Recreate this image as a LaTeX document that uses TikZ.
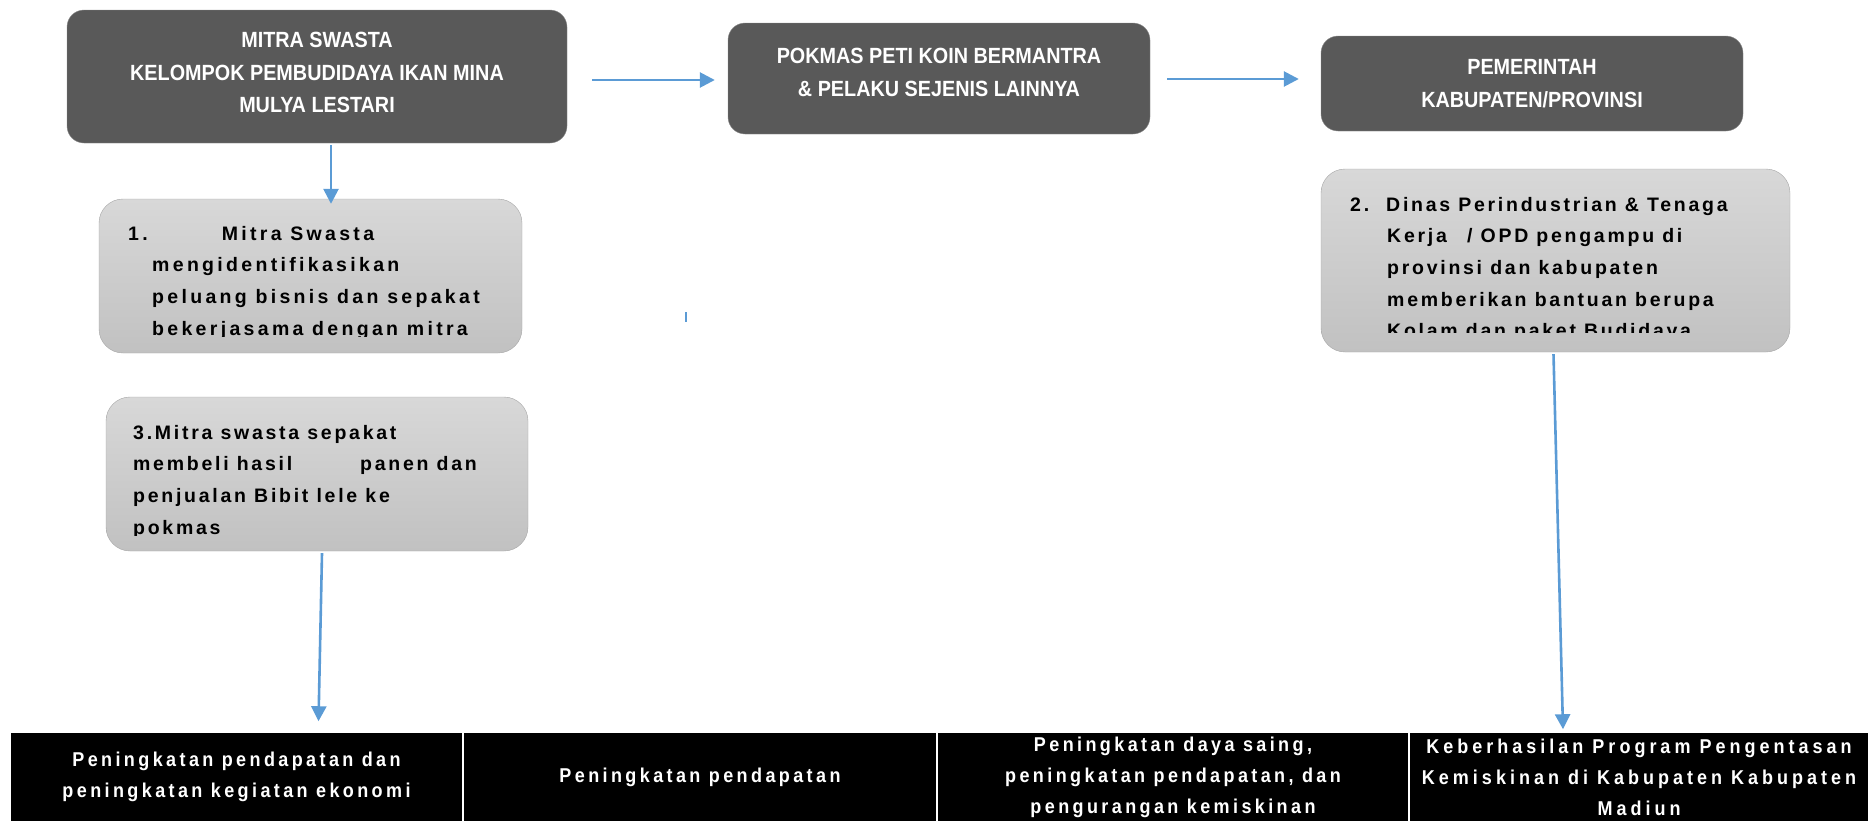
\documentclass[tikz,border=0pt]{standalone}
\usepackage{fontspec}
\setmainfont{Liberation Sans}
\usetikzlibrary{arrows.meta,positioning}

\definecolor{boxdark}{HTML}{595959}
\definecolor{boxedge}{HTML}{8C8C8C}
\definecolor{lighttop}{HTML}{D8D8D8}
\definecolor{lightbot}{HTML}{C1C1C1}
\definecolor{lightedge}{HTML}{A6A6A6}
\definecolor{arrowblue}{HTML}{5B9BD5}

\newcommand{\headfont}{\fontsize{22}{32.5}\selectfont\bfseries\addfontfeature{FakeStretch=0.9}}
\newcommand{\stepfont}{\fontsize{19.5}{31.7}\selectfont\bfseries\addfontfeature{LetterSpace=14}}
\newcommand{\resultfont}{\fontsize{20}{31}\selectfont\bfseries\addfontfeature{FakeStretch=0.9,LetterSpace=17}}

\tikzset{
    darkbox/.style={draw=boxedge, fill=boxdark, rounded corners=17pt, text=white,
        font=\headfont, align=center, inner sep=0pt},
    lightbox/.style={draw=lightedge, top color=lighttop, bottom color=lightbot,
        rounded corners=24pt, inner sep=0pt},
    steptext/.style={anchor=base west, align=left, font=\stepfont, inner sep=0pt},
    resultbox/.style={fill=black, draw=white, line width=1.5pt, text=white,
        font=\resultfont, align=center, minimum height=90pt, inner sep=0pt},
    link/.style={draw=arrowblue, line width=2.6pt, -{Triangle[length=15pt,width=15pt]}},
}

\begin{document}
\begin{tikzpicture}[x=1pt, y=-1pt]
    \useasboundingbox (0,0) rectangle (1869,822);

    % actors on top
    \node[darkbox, minimum width=500, minimum height=133, text depth=8pt] (mitra) at (317,76.5)
        {MITRA SWASTA\\KELOMPOK PEMBUDIDAYA IKAN MINA\\MULYA LESTARI};
    \node[darkbox, minimum width=422, minimum height=111, text depth=12pt] (pokmas) at (939,78.5)
        {POKMAS PETI KOIN BERMANTRA\\\& PELAKU SEJENIS LAINNYA};
    \node[darkbox, minimum width=422, minimum height=95] (pemda) at (1532,83.5)
        {PEMERINTAH\\KABUPATEN/PROVINSI};

    % numbered steps
    \node[lightbox, minimum width=423, minimum height=154] (step1) at (310.5,276) {};
    \node[lightbox, minimum width=469, minimum height=183] (step2) at (1555.5,260.5) {};
    \node[lightbox, minimum width=422, minimum height=154] (step3) at (317,474) {};

    % step texts, cut off at the box bottom
    \begin{scope}
        \clip (99,199) rectangle (522,336);
        \node[steptext, font=\stepfont\addfontfeature{LetterSpace=17}] (text1) at (128,335.1)
            {1.\hspace{74pt}Mitra Swasta\\
             \hspace*{24pt}mengidentifikasikan\\
             \hspace*{24pt}peluang bisnis dan sepakat\\
             \hspace*{24pt}bekerjasama dengan mitra};
    \end{scope}
    \begin{scope}
        \clip (1321,169) rectangle (1790,332);
        \node[steptext] (text2) at (1350,337.8)
            {2.\hspace{17pt}Dinas Perindustrian \& Tenaga\\
             \hspace*{37pt}Kerja \hspace{12pt}/ OPD pengampu di\\
             \hspace*{37pt}provinsi dan kabupaten\\
             \hspace*{37pt}memberikan bantuan berupa\\
             \hspace*{37pt}Kolam dan paket Budidaya};
    \end{scope}
    \begin{scope}
        \clip (106,397) rectangle (528,535);
        \node[steptext] (text3) at (133,534.1)
            {3.Mitra swasta sepakat\\
             membeli hasil\hspace{68pt}panen dan\\
             penjualan Bibit lele ke\\
             pokmas};
    \end{scope}

    % outcomes
    \node[resultbox, minimum width=453] (hasil1) at (236.5,777)
        {Peningkatan pendapatan dan\\peningkatan kegiatan ekonomi};
    \node[resultbox, minimum width=474] (hasil2) at (700,777)
        {Peningkatan pendapatan};
    \node[resultbox, minimum width=472] (hasil3) at (1173,777)
        {Peningkatan daya saing,\\peningkatan pendapatan, dan\\pengurangan kemiskinan};
    \node[resultbox, minimum width=460, font=\resultfont\addfontfeature{LetterSpace=20}] (hasil4) at (1639,777)
        {Keberhasilan Program Pengentasan\\Kemiskinan di Kabupaten Kabupaten\\Madiun};

    % arrows
    \draw[link] ([xshift=25pt]mitra.east |- 0,80) -- ([xshift=-13pt]pokmas.west |- 0,80);
    \draw[link] ([xshift=17pt]pokmas.east |- 0,79) -- ([xshift=-22pt]pemda.west |- 0,79);
    \draw[link] ([xshift=14pt,yshift=-2pt]mitra.south) -- ([xshift=20.5pt,yshift=-5pt]step1.north);
    \draw[link] ([xshift=-2pt,yshift=-2pt]step2.south) -- ([xshift=-76pt,yshift=2pt]hasil4.north);
    \draw[link] ([xshift=5pt,yshift=-2pt]step3.south) -- ([xshift=82pt,yshift=10pt]hasil1.north);
    \coordinate (tick) at (686,312);
    \draw[arrowblue, line width=2.6pt] (tick) -- ++(0,10);
\end{tikzpicture}
\end{document}
